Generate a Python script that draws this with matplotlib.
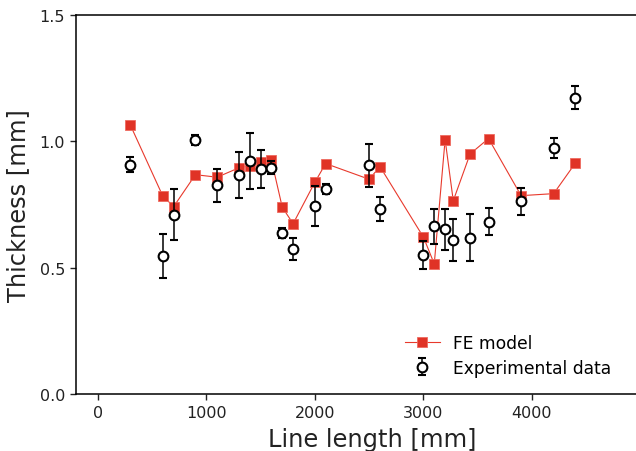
import numpy as np
import matplotlib
matplotlib.use('Agg')
import matplotlib.pyplot as plt

# FE model thickness along the line
fe_length = [300, 600, 700, 900, 1100, 1300, 1400, 1500, 1600, 1700, 1800, 2000, 2100,
             2500, 2600, 3000, 3100, 3200, 3275, 3430, 3600, 3900, 4200, 4400]
fe_thickness = [1.065, 0.783, 0.742, 0.868, 0.858, 0.895, 0.903, 0.917, 0.926, 0.739, 0.674,
                0.838, 0.912, 0.850, 0.900, 0.621, 0.515, 1.007, 0.765, 0.950, 1.011, 0.785,
                0.793, 0.914]

# Measured thickness with standard deviation
exp_length = [300, 600, 700, 900, 1100, 1300, 1400, 1500, 1600, 1700, 1800, 2000, 2100,
              2500, 2600, 3000, 3100, 3200, 3275, 3430, 3600, 3900, 4200, 4400]
exp_thickness = [0.908, 0.546, 0.710, 1.004, 0.826, 0.867, 0.922, 0.892, 0.896, 0.636, 0.573,
                 0.745, 0.813, 0.905, 0.731, 0.550, 0.664, 0.652, 0.610, 0.619, 0.682, 0.763,
                 0.973, 1.173]
exp_std = [0.030, 0.086, 0.102, 0.020, 0.065, 0.090, 0.110, 0.075, 0.027, 0.020, 0.044,
           0.080, 0.020, 0.085, 0.048, 0.054, 0.069, 0.082, 0.082, 0.094, 0.053, 0.053,
           0.040, 0.047]

fig = plt.figure(figsize=(6.36, 4.52), dpi=100)
# axes run a little past the right edge of the canvas
ax = fig.add_axes([0.1195, 0.1261, 0.932, 0.8385])

ax.plot(fe_length, fe_thickness, color='#e8392c', lw=0.8, marker='s', markersize=6.5,
        markerfacecolor='#e03326', markeredgecolor='#ee6a5f', markeredgewidth=0.6,
        label='FE model', zorder=2)
ax.errorbar(exp_length, exp_thickness, yerr=exp_std, fmt='o', color='black',
            markersize=7, markerfacecolor='white', markeredgecolor='black',
            markeredgewidth=1.5, ecolor='black', elinewidth=1.1, capsize=3,
            capthick=1.1, label='Experimental data', zorder=3)

ax.set_xlim(-200, 5260)
ax.set_ylim(0, 1.5)
ax.set_xticks([0, 1000, 2000, 3000, 4000])
ax.set_yticks([0.0, 0.5, 1.0, 1.5])
ax.tick_params(labelsize=11.5, length=4.5, width=1, direction='out', colors='#222222')
for side in ['left', 'bottom', 'top']:
    ax.spines[side].set_linewidth(1.1)

ax.set_xlabel('Line length [mm]', fontsize=17.4, color='#222222', labelpad=5)
ax.set_ylabel('Thickness [mm]', fontsize=17.4, color='#222222', labelpad=7)

ax.legend(loc='lower right', bbox_to_anchor=(0.932, 0.0), frameon=False, fontsize=12.3,
          handlelength=2.0, borderaxespad=0.6, labelspacing=0.4)

fig.savefig('out.png', dpi=100)
